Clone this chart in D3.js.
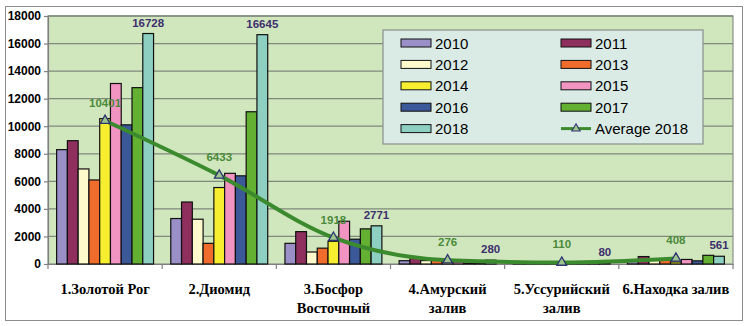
<!DOCTYPE html>
<html><head><meta charset="utf-8">
<script src="https://cdn.jsdelivr.net/npm/d3@7/dist/d3.min.js"></script>
<style>html,body{margin:0;padding:0;background:#fff;}svg{display:block;}</style>
</head><body>
<svg id="chart" width="750" height="326"></svg>
<script>
const categories = ["1.Золотой Рог", "2.Диомид", "3.Босфор\nВосточный", "4.Амурский\nзалив", "5.Уссурийский\nзалив", "6.Находка залив"];
const years = ["2010","2011","2012","2013","2014","2015","2016","2017","2018"];
const v2010 = [8300, 3300, 1500, 240, 40, 190];
const v2011 = [8950, 4500, 2350, 450, 60, 540];
const v2012 = [6900, 3250, 870, 250, 30, 260];
const v2013 = [6100, 1500, 1150, 260, 30, 300];
const v2014 = [10550, 5550, 1650, 150, 40, 150];
const v2015 = [13100, 6580, 3100, 150, 30, 330];
const v2016 = [10100, 6400, 1800, 60, 30, 230];
const v2017 = [12800, 11050, 2550, 60, 50, 630];
const v2018 = [16728, 16645, 2771, 280, 80, 561];
const average2018 = [10401, 6433, 1918, 276, 110, 408];
const yTicks = [0,2000,4000,6000,8000,10000,12000,14000,16000,18000];
const colors = ["#9a8fc6","#8e2f5e","#fffacc","#ef6c2c","#f8ee30","#f294c2","#3b5899","#63b033","#8dd0c2"];
const seriesValues = [v2010,v2011,v2012,v2013,v2014,v2015,v2016,v2017,v2018];

const svg = d3.select("#chart");
const L = 48, R = 733, T = 16, B = 264;

// outer border
svg.append("rect").attr("x",5.5).attr("y",6.5).attr("width",737).attr("height",314)
  .attr("fill","#fff").attr("stroke","#8c8c8c").attr("stroke-width",1);

const x0 = d3.scaleBand().domain(categories).range([L,R]).padding(0);
const x1 = d3.scaleBand().domain(years).range([0,x0.bandwidth()]).paddingInner(0).paddingOuter(0.8);
const y = d3.scaleLinear().domain([0,18000]).range([B,T]);

// plot area
svg.append("rect").attr("x",L).attr("y",T).attr("width",R-L).attr("height",B-T)
  .attr("fill","#d0e6bd").attr("stroke","#8a8f88").attr("stroke-width",1.2);

// gridlines
svg.append("g").selectAll("line").data(yTicks.filter(d=>d>0)).join("line")
  .attr("x1",L).attr("x2",R).attr("y1",d=>y(d)).attr("y2",d=>y(d))
  .attr("stroke","#7f8a7c").attr("stroke-width",1.3);

// y axis
const yAxis = d3.axisLeft(y).tickValues(yTicks).tickSize(4).tickPadding(3).tickFormat(d3.format("d"));
const gy = svg.append("g").attr("transform",`translate(${L},0)`).call(yAxis);
gy.select(".domain").attr("stroke","#808080").attr("stroke-width",1.2);
gy.selectAll(".tick line").attr("stroke","#808080").attr("stroke-width",1.2);
gy.selectAll(".tick text").attr("font-family","Liberation Sans, Arial, sans-serif")
  .attr("font-weight","bold").attr("font-size","12px").attr("fill","#000");

// x axis
const xAxis = d3.axisBottom(x0).tickSize(0).tickFormat("");
const gx = svg.append("g").attr("transform",`translate(0,${B})`).call(xAxis);
gx.select(".domain").attr("stroke","#808080").attr("stroke-width",1.2);
// category separators ticks
svg.append("g").selectAll("line").data(categories.concat(["_end"])).join("line")
  .attr("x1",(d,i)=> i<categories.length ? x0(d) : R).attr("x2",(d,i)=> i<categories.length ? x0(d) : R)
  .attr("y1",B).attr("y2",B+5).attr("stroke","#808080").attr("stroke-width",1.2);

// category labels
const catG = svg.append("g");
categories.forEach(c=>{
  const lines = c.split("\n");
  const t = catG.append("text").attr("x",x0(c)+x0.bandwidth()/2).attr("y",294)
    .attr("text-anchor","middle").attr("font-family","Liberation Serif, Times New Roman, serif")
    .attr("font-weight","bold").attr("font-size","14.5px").attr("fill","#000");
  lines.forEach((ln,i)=>{
    t.append("tspan").attr("x",x0(c)+x0.bandwidth()/2).attr("dy", i===0?0:18.5).text(ln);
  });
});

// bars
const groups = svg.append("g").selectAll("g").data(categories).join("g")
  .attr("transform",d=>`translate(${x0(d)},0)`);
groups.selectAll("rect").data((d,ci)=>years.map((yr,si)=>({yr,si,v:seriesValues[si][ci]}))).join("rect")
  .attr("x",d=>x1(d.yr)).attr("width",x1.bandwidth())
  .attr("y",d=>y(d.v)).attr("height",d=>B-y(d.v))
  .attr("fill",d=>colors[d.si]).attr("stroke","#111").attr("stroke-width",1.2);

// 2018 labels
svg.append("g").selectAll("text").data(categories).join("text")
  .attr("x",(d,i)=>x0(d)+x1("2018")+x1.bandwidth()/2)
  .attr("y",(d,i)=>y(v2018[i]) - 7)
  .attr("text-anchor","middle").attr("font-family","Liberation Sans, Arial, sans-serif")
  .attr("font-weight","bold").attr("font-size","11.5px").attr("fill","#3e2f6e")
  .text((d,i)=>v2018[i]);

// average line
const pts = categories.map((c,i)=>[x0(c)+x0.bandwidth()/2, y(average2018[i])]);
svg.append("path").attr("d", d3.line().curve(d3.curveMonotoneX)(pts))
  .attr("fill","none").attr("stroke","#3c8a2e").attr("stroke-width",4);

const tri = d3.symbol().type(d3.symbolTriangle).size(40);
svg.append("g").selectAll("path").data(pts).join("path")
  .attr("transform",d=>`translate(${d[0]},${d[1]})`).attr("d",tri)
  .attr("fill","#9cc48c").attr("stroke","#2e3572").attr("stroke-width",1.3);

svg.append("g").selectAll("text").data(categories).join("text")
  .attr("x",(d,i)=>pts[i][0]).attr("y",(d,i)=>pts[i][1]-14)
  .attr("text-anchor","middle").attr("font-family","Liberation Sans, Arial, sans-serif")
  .attr("font-weight","bold").attr("font-size","11.5px").attr("fill","#4a8a3a")
  .text((d,i)=>average2018[i]);

// legend
const lg = svg.append("g");
lg.append("rect").attr("x",383).attr("y",30).attr("width",320).attr("height",114)
  .attr("fill","#daebe6").attr("stroke","#8a8f8a").attr("stroke-width",1.2);
const legendItems = years.map((yr,i)=>({label:yr, type:"bar", color:colors[i]}))
  .concat([{label:"Average 2018", type:"line"}]);
legendItems.forEach((it,i)=>{
  const col = i%2, row = Math.floor(i/2);
  const sx = col===0 ? 401 : 561;
  const cy = 43 + row*21.4;
  if(it.type==="bar"){
    lg.append("rect").attr("x",sx).attr("y",cy-4).attr("width",30).attr("height",8)
      .attr("fill",it.color).attr("stroke","#111").attr("stroke-width",1);
  } else {
    lg.append("line").attr("x1",sx).attr("x2",sx+30).attr("y1",cy).attr("y2",cy)
      .attr("stroke","#3c8a2e").attr("stroke-width",3);
    lg.append("path").attr("transform",`translate(${sx+15},${cy})`).attr("d",d3.symbol().type(d3.symbolTriangle).size(30))
      .attr("fill","#9cc48c").attr("stroke","#2e3572").attr("stroke-width",1.1);
  }
  lg.append("text").attr("x",sx+34).attr("y",cy+5.5).attr("font-family","Liberation Sans, Arial, sans-serif")
    .attr("font-size","15px").attr("fill","#000").text(it.label);
});
</script>
</body></html>
